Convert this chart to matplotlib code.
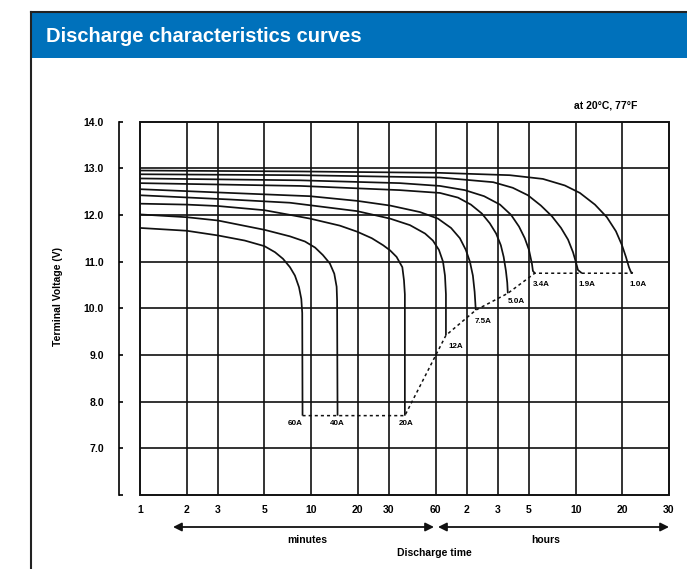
import numpy as np
import matplotlib
matplotlib.use('Agg')
import matplotlib.pyplot as plt
from matplotlib.patches import Rectangle
from matplotlib.lines import Line2D

plt.rcParams['font.family'] = ['Liberation Sans', 'DejaVu Sans']
plt.rcParams['font.weight'] = 'bold'

# time axis (minutes) as printed on the sheet
tick_minutes = [1, 2, 3, 5, 10, 20, 30, 60, 120, 180, 300, 600, 1200, 1800]
tick_labels = ['1', '2', '3', '5', '10', '20', '30', '60', '2', '3', '5', '10', '20', '30']
axis_stops = [0, 3, 5, 8, 11, 14, 16, 19, 21, 23, 25, 28, 31, 34]  # uneven spacing of the printed axis
volt_ticks = [6, 7, 8, 9, 10, 11, 12, 13, 14]
volt_labels = ['', '7.0', '8.0', '9.0', '10.0', '11.0', '12.0', '13.0', '14.0']

# discharge curves, time in minutes, voltage in V
labels = ['60A', '40A', '20A', '12A', '7.5A', '5.0A', '3.4A', '1.9A', '1.0A']
t_60a = [1, 2, 3, 4.03, 5, 5.85, 6.58, 7.3, 7.86, 8.35, 8.64, 8.76, 8.8]
v_60a = [11.72, 11.66, 11.56, 11.45, 11.33, 11.2, 11.06, 10.88, 10.7, 10.45, 10.2, 9.9, 7.7]
t_40a = [1, 2, 3, 5, 7.3, 9.12, 10.6, 11.9, 13.2, 14.1, 14.6, 14.7, 14.8]
v_40a = [12.01, 11.95, 11.88, 11.68, 11.54, 11.43, 11.3, 11.14, 10.96, 10.74, 10.46, 10.17, 7.7]
t_20a = [1, 2, 3, 5, 7.3, 9.84, 15.3, 19.8, 24.0, 27.8, 30.5, 33.6, 36.6, 37.5, 38, 38]
v_20a = [12.24, 12.22, 12.19, 12.1, 12.0, 11.92, 11.77, 11.64, 11.5, 11.35, 11.24, 11.1, 10.88,
         10.6, 10.3, 7.7]
t_12a = [1, 3.42, 7.3, 19.8, 30.5, 41, 51.3, 57.6, 64.6, 70.7, 73.9, 75.5, 75.5]
v_12a = [12.42, 12.33, 12.26, 12.08, 11.92, 11.78, 11.6, 11.45, 11.25, 11.0, 10.7, 10.3, 9.42]
t_7_5a = [1, 3.42, 9.84, 19.8, 30.5, 47.6, 63.2, 84.6, 103, 117.6, 125, 130, 133, 135]
v_7_5a = [12.55, 12.47, 12.4, 12.3, 12.2, 12.06, 11.92, 11.72, 11.5, 11.25, 11.0, 10.7, 10.35, 9.96]
t_5_0a = [1, 8.5, 35.3, 66, 98.8, 126.7, 146, 162, 176, 189, 198, 205.5, 210, 212]
v_5_0a = [12.68, 12.62, 12.53, 12.47, 12.37, 12.22, 12.03, 11.82, 11.6, 11.35, 11.1, 10.8, 10.55,
          10.32]
t_3_4a = [1, 8.5, 35.3, 66, 115, 150.5, 186.5, 223.6, 254.7, 280, 300, 313.6, 318, 327]
v_3_4a = [12.78, 12.74, 12.68, 12.62, 12.53, 12.4, 12.22, 12.0, 11.75, 11.5, 11.25, 10.95, 10.8,
          10.75]
t_1_9a = [1, 8.5, 66, 169.5, 230, 295, 358, 422, 483, 536, 577, 603, 621, 658]
v_1_9a = [12.87, 12.85, 12.8, 12.7, 12.58, 12.42, 12.2, 11.97, 11.72, 11.47, 11.2, 10.98, 10.82,
          10.75]
t_1_0a = [1, 8.5, 66, 219, 369, 511, 639, 799, 954, 1091, 1194, 1238, 1271, 1292, 1313]
v_1_0a = [12.95, 12.93, 12.9, 12.85, 12.77, 12.63, 12.47, 12.22, 11.95, 11.65, 11.35, 11.1, 10.88,
          10.78, 10.75]

times = [t_60a, t_40a, t_20a, t_12a, t_7_5a, t_5_0a, t_3_4a, t_1_9a, t_1_0a]
volts = [v_60a, v_40a, v_20a, v_12a, v_7_5a, v_5_0a, v_3_4a, v_1_9a, v_1_0a]

log_ticks = np.log(tick_minutes)


def fwd(t):
    t = np.asarray(t, dtype=float)
    with np.errstate(divide='ignore', invalid='ignore'):
        lt = np.log(np.clip(t, 1e-6, None))
    return np.interp(lt, log_ticks, axis_stops)


def inv(u):
    return np.exp(np.interp(np.asarray(u, dtype=float), axis_stops, log_ticks))


W, H = 687, 569
fig = plt.figure(figsize=(W / 100, H / 100), dpi=100)

# blue header and sheet frame
fig.patches.append(Rectangle((31 / W, 1 - 58 / H), 1, 45 / H, transform=fig.transFigure,
                             facecolor='#0071bb', edgecolor='none'))
fig.add_artist(Line2D([31 / W, 31 / W], [0, 1 - 12 / H], color='#222222', lw=1.5))
fig.add_artist(Line2D([31 / W, 1], [1 - 12 / H, 1 - 12 / H], color='#222222', lw=1.5))
fig.text(46 / W, 1 - 37 / H, 'Discharge characteristics curves', color='white',
         fontsize=14.5, fontweight='bold', va='center', ha='left')

ax = fig.add_axes([140 / W, 74 / H, 529 / W, 373.5 / H])
ax.set_xscale('function', functions=(fwd, inv))
ax.set_xlim(1, 1800)
ax.set_ylim(6, 14)

for t in tick_minutes[1:-1]:
    ax.axvline(t, color='#111111', lw=1.2, zorder=1)
for v in volt_ticks[1:-1]:
    ax.axhline(v, color='#111111', lw=1.2, zorder=1)
ax.add_patch(Rectangle((0, 0), 1, 1, transform=ax.transAxes, fill=False,
                       edgecolor='#111111', lw=1.4, zorder=3, clip_on=False))

for t, v in zip(times, volts):
    ax.plot(t, v, color='#111111', lw=1.25, zorder=2, solid_capstyle='butt',
            solid_joinstyle='round')

# end-of-discharge line through the curve ends
end_t = [t[-1] for t in times]
end_v = [v[-1] for v in volts]
ax.plot(end_t, end_v, color='#111111', lw=1.1, linestyle=(0, (2, 2)), zorder=2)

offsets = [(-5, -6), (0, -6), (1, -6), (7, -8), (5, -8), (6, -6), (5, -8), (4, -8), (4, -8)]
for lab, x, y, off in zip(labels, end_t, end_v, offsets):
    ax.annotate(lab, (x, y), xytext=off, textcoords='offset points', fontsize=5.8,
                fontweight='bold', ha='center', va='center')

for s in ['top', 'right', 'bottom']:
    ax.spines[s].set_visible(False)
ax.spines['left'].set_position(('outward', 15))
ax.spines['left'].set_linewidth(1.2)
ax.spines['left'].set_bounds(6, 14)

ax.set_xticks(tick_minutes)
ax.set_xticklabels(tick_labels)
ax.minorticks_off()
ax.tick_params(axis='x', length=0, pad=7, labelsize=7.5)
ax.set_yticks(volt_ticks)
ax.set_yticklabels(volt_labels)
ax.tick_params(axis='y', direction='in', length=3, width=1.2, pad=11, labelsize=7.5)

fig.text(58 / W, 1 - 297 / H, 'Terminal Voltage (V)', rotation=90, fontsize=7.5,
         fontweight='bold', ha='center', va='center')
fig.text(637 / W, 1 - 105 / H, 'at 20°C, 77°F', fontsize=7.5, fontweight='bold',
         ha='right', va='center')

arrow = dict(arrowstyle='<|-|>,head_length=0.5,head_width=0.25', color='#111111', lw=1.3,
             shrinkA=0, shrinkB=0)
ya = -32 / 373.5
ax.annotate('', xy=(294 / 529, ya), xytext=(33 / 529, ya), xycoords='axes fraction',
            arrowprops=arrow)
ax.annotate('', xy=(1.0, ya), xytext=(298 / 529, ya), xycoords='axes fraction',
            arrowprops=arrow)
ax.text(167 / 529, -45 / 373.5, 'minutes', transform=ax.transAxes, fontsize=7.5,
        fontweight='bold', ha='center', va='center')
ax.text(406 / 529, -45 / 373.5, 'hours', transform=ax.transAxes, fontsize=7.5,
        fontweight='bold', ha='center', va='center')
ax.text(294 / 529, -58 / 373.5, 'Discharge time', transform=ax.transAxes, fontsize=7.5,
        fontweight='bold', ha='center', va='center')

fig.savefig('out.png', dpi=100)
